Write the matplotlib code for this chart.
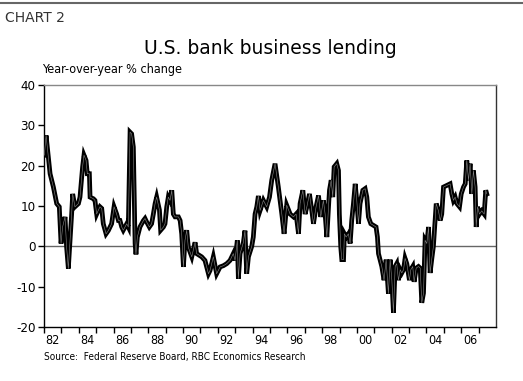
import numpy as np
import matplotlib
matplotlib.use("Agg")
import matplotlib.pyplot as plt
from matplotlib.lines import Line2D

# year-over-year % change, U.S. commercial bank business loans
years = [1982.02,1982.12,1982.35,1982.54,1982.73,1982.88,1982.98,1983.07,1983.21,1983.30,
         1983.40,1983.59,1983.65,1983.78,1983.98,1984.07,1984.22,1984.30,1984.42,1984.49,
         1984.61,1984.65,1984.84,1984.93,1985.03,1985.13,1985.22,1985.32,1985.41,1985.57,
         1985.70,1985.89,1986.03,1986.18,1986.28,1986.37,1986.47,1986.56,1986.66,1986.76,
         1986.85,1986.95,1987.04,1987.14,1987.24,1987.29,1987.37,1987.52,1987.62,1987.72,
         1987.81,1987.91,1988.06,1988.19,1988.29,1988.39,1988.48,1988.64,1988.71,1988.87,
         1988.96,1989.06,1989.15,1989.25,1989.35,1989.44,1989.54,1989.73,1989.83,1989.92,
         1990.02,1990.11,1990.21,1990.30,1990.50,1990.69,1990.78,1991.07,1991.26,1991.46,
         1991.55,1991.74,1991.93,1992.13,1992.32,1992.51,1992.70,1992.89,1992.99,1993.12,
         1993.18,1993.28,1993.47,1993.56,1993.66,1993.76,1993.95,1994.04,1994.14,1994.24,
         1994.33,1994.43,1994.62,1994.81,1994.97,1995.10,1995.29,1995.48,1995.68,1995.81,
         1995.96,1996.16,1996.35,1996.50,1996.64,1996.73,1996.89,1997.02,1997.12,1997.27,
         1997.40,1997.50,1997.65,1997.79,1997.92,1998.07,1998.17,1998.27,1998.42,1998.52,
         1998.61,1998.69,1998.84,1998.94,1998.99,1999.07,1999.13,1999.23,1999.28,1999.38,
         1999.51,1999.61,1999.70,1999.80,1999.90,1999.99,2000.09,2000.18,2000.34,2000.47,
         2000.57,2000.66,2000.80,2000.95,2001.10,2001.18,2001.24,2001.43,2001.56,2001.68,
         2001.81,2001.91,2002.01,2002.10,2002.20,2002.29,2002.39,2002.49,2002.58,2002.68,
         2002.77,2002.87,2003.02,2003.10,2003.21,2003.29,2003.41,2003.54,2003.64,2003.73,
         2003.83,2003.92,2004.02,2004.12,2004.21,2004.31,2004.40,2004.50,2004.56,2004.69,
         2004.79,2004.88,2004.98,2005.17,2005.36,2005.46,2005.55,2005.65,2005.75,2005.90,
         2006.00,2006.13,2006.23,2006.32,2006.42,2006.51,2006.61,2006.70,2006.80,2006.86,
         2006.94,2007.05,2007.18,2007.32,2007.41,2007.47]
pct = [22.6,27.5,18.0,14.7,10.6,9.8,0.7,4.8,7.3,-0.2,
       -5.5,8.0,13.0,9.8,10.6,12.2,19.7,22.6,21.3,18.0,
       18.0,12.2,11.8,11.4,8.0,9.0,9.8,9.4,5.6,3.1,
       3.9,5.6,9.8,8.0,6.4,6.4,4.8,4.0,4.8,5.6,
       4.8,28.3,27.9,24.6,0.7,-2.0,2.3,4.8,5.6,6.4,
       6.9,6.0,4.8,5.6,8.0,10.6,12.2,9.0,4.0,4.8,
       5.6,9.8,12.2,11.4,13.9,8.0,7.3,7.3,6.4,3.1,
       -5.1,1.5,4.0,-0.2,-2.6,1.0,-1.8,-2.6,-3.5,-6.8,
       -6.0,-2.6,-6.8,-5.1,-4.8,-4.3,-3.5,-1.8,-3.5,1.5,
       -8.0,-1.8,1.0,3.9,-6.8,-2.6,0.0,2.3,8.0,9.8,
       12.5,8.9,11.4,9.8,12.2,16.4,20.5,14.7,8.0,3.1,
       10.2,8.0,7.3,8.0,3.1,10.6,13.9,8.0,9.8,13.0,
       9.0,5.6,9.8,12.6,7.3,11.4,8.0,2.3,13.9,16.4,
       12.2,19.7,20.5,18.8,8.0,-0.2,-3.3,-3.3,3.1,2.3,
       3.1,0.7,6.4,10.6,15.5,11.4,5.6,10.6,13.9,14.3,
       12.2,7.3,5.6,5.2,4.8,2.3,-1.8,-5.0,-8.4,-3.3,
       -11.7,-3.3,-8.4,-16.5,-5.0,-4.3,-8.4,-5.8,-6.6,-5.8,
       -3.0,-4.3,-8.4,-5.8,-5.0,-8.8,-5.4,-5.0,-5.4,-14.0,
       -11.6,1.5,0.7,4.8,-6.6,-3.0,0.0,6.4,10.6,8.8,
       6.4,8.0,14.7,15.1,15.5,13.0,11.4,12.2,10.6,9.8,
       13.0,14.7,15.5,21.3,16.4,20.5,13.0,18.8,14.7,4.8,
       9.8,8.0,8.8,8.0,13.9,13.0]

tick_years = list(range(1982, 2008))
label_years = list(range(1982, 2008, 2))
y_ticks = [40, 30, 20, 10, 0, -10, -20]

narrow = dict(family="DejaVu Sans", stretch="condensed")

fig = plt.figure(figsize=(5.23, 3.81), dpi=100)
fig.patch.set_facecolor("white")
ax = fig.add_axes([44/523, 1-327/381, (496-44)/523, (327-85)/381])

ax.axhline(0, color="#666666", lw=1.0, zorder=1)
ax.plot(years, pct, color="black", lw=3.4, solid_joinstyle="miter", zorder=3)
ax.plot(years, pct, color="#8a8a8a", lw=0.4, zorder=4)

ax.set_xlim(1982, 2008)
ax.set_ylim(-20, 40)
ax.set_yticks(y_ticks)
ax.set_yticklabels([str(v) for v in y_ticks], fontsize=9.5, **narrow)
ax.set_xticks(tick_years)
ax.set_xticklabels([])
ax.set_xticks([y + 0.5 for y in label_years], minor=True)
ax.set_xticklabels(["%02d" % (y % 100) for y in label_years], minor=True,
                   fontsize=9, **narrow)
ax.tick_params(axis="x", which="major", direction="out", length=4, width=1, color="black")
ax.tick_params(axis="x", which="minor", length=0, pad=5)
ax.tick_params(axis="y", direction="out", length=4, width=1, color="black", pad=2)

ax.spines["left"].set_color("black")
ax.spines["bottom"].set_color("black")
ax.spines["top"].set_color("#888888")
ax.spines["right"].set_color("#333333")
for s in ax.spines.values():
    s.set_linewidth(1.0)

# header rule and texts
fig.add_artist(Line2D([0, 1], [1-3/381, 1-3/381], color="#666666", lw=1.5))
fig.text(5/523, 1-18/381, "CHART 2", fontsize=10, color="#333333", va="center", ha="left")
fig.text(270/523, 1-48/381, "U.S. bank business lending", fontsize=13.5,
         va="center", ha="center", color="black")
fig.text(42/523, 1-69/381, "Year-over-year % change", fontsize=9,
         va="center", ha="left", **narrow)
fig.text(44/523, 1-357/381, "Source:  Federal Reserve Board, RBC Economics Research",
         fontsize=7.2, va="center", ha="left", **narrow)

fig.savefig("out.png", dpi=100)
